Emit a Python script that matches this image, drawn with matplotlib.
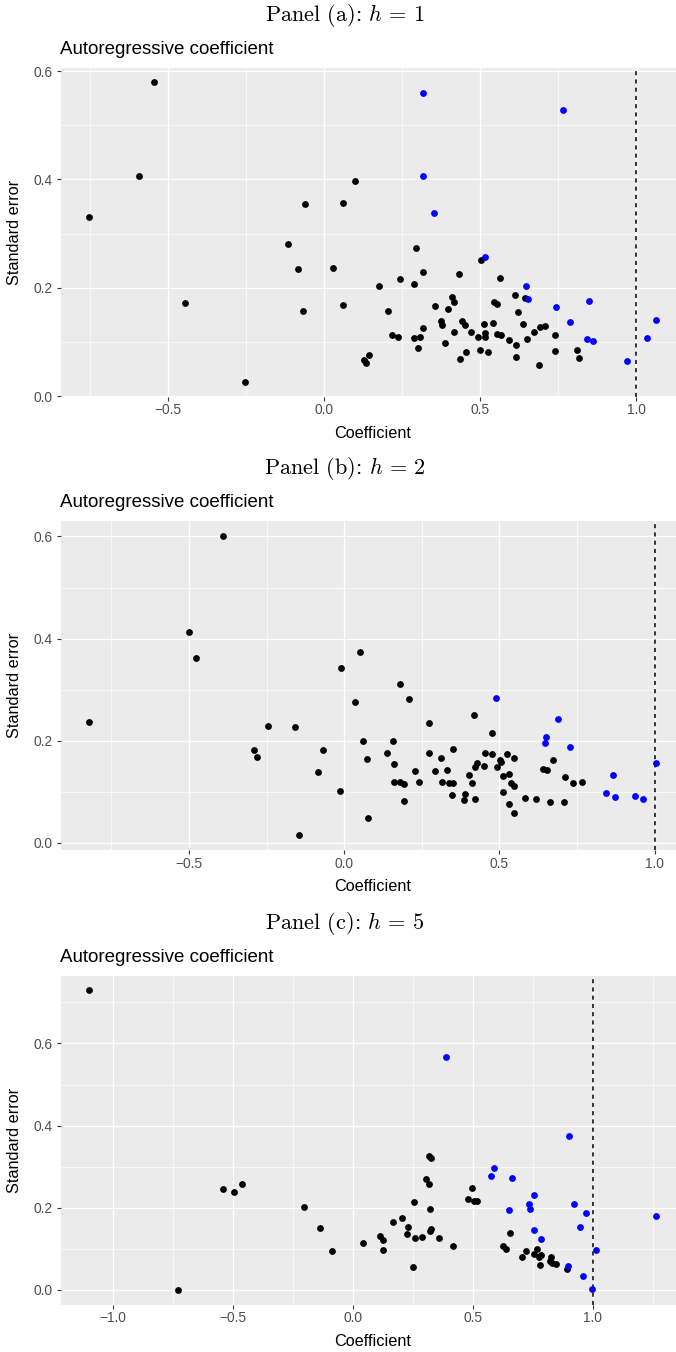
import numpy as np
import matplotlib
matplotlib.use("Agg")
import matplotlib.pyplot as plt
from matplotlib.ticker import MultipleLocator

plt.rcParams["font.family"] = ["Liberation Sans", "DejaVu Sans"]
plt.rcParams["mathtext.fontset"] = "cm"

# ---- Panel (a): h = 1 ----
a_coef_black = [-0.751, -0.592, -0.545, -0.444, -0.253, -0.115, -0.083, -0.061, -0.068, 0.028,
                0.061, 0.062, 0.100, 0.129, 0.136, 0.145, 0.176, 0.206, 0.217, 0.237,
                0.245, 0.288, 0.294, 0.288, 0.301, 0.307, 0.317, 0.318, 0.355, 0.375,
                0.379, 0.387, 0.396, 0.409, 0.415, 0.415, 0.433, 0.435, 0.441, 0.452,
                0.455, 0.472, 0.494, 0.499, 0.503, 0.512, 0.515, 0.515, 0.526, 0.541,
                0.546, 0.553, 0.555, 0.563, 0.568, 0.591, 0.613, 0.614, 0.614, 0.620,
                0.637, 0.643, 0.649, 0.671, 0.688, 0.691, 0.708, 0.740, 0.741, 0.811,
                0.815]
a_se_black = [0.331, 0.407, 0.579, 0.172, 0.027, 0.280, 0.235, 0.355, 0.158, 0.237,
              0.357, 0.169, 0.397, 0.066, 0.062, 0.076, 0.204, 0.158, 0.112, 0.109,
              0.216, 0.207, 0.273, 0.108, 0.089, 0.109, 0.126, 0.229, 0.167, 0.138,
              0.132, 0.099, 0.161, 0.183, 0.174, 0.118, 0.226, 0.069, 0.139, 0.132,
              0.081, 0.119, 0.109, 0.085, 0.251, 0.134, 0.117, 0.110, 0.082, 0.135,
              0.173, 0.171, 0.114, 0.218, 0.112, 0.104, 0.186, 0.095, 0.073, 0.155,
              0.134, 0.181, 0.105, 0.119, 0.057, 0.127, 0.129, 0.113, 0.083, 0.086,
              0.071]
a_coef_blue = [0.318, 0.317, 0.351, 0.515, 0.646, 0.652, 0.742, 0.766, 0.789, 0.850,
               0.843, 0.861, 0.970, 1.034, 1.062]
a_se_blue = [0.559, 0.406, 0.338, 0.257, 0.204, 0.179, 0.164, 0.529, 0.137, 0.176,
             0.106, 0.102, 0.065, 0.108, 0.140]

# ---- Panel (b): h = 2 ----
b_coef_black = [-0.821, -0.499, -0.478, -0.389, -0.290, -0.281, -0.246, -0.157, -0.146, -0.083,
                -0.069, -0.014, -0.010, 0.035, 0.050, 0.060, 0.072, 0.078, 0.139, 0.158,
                0.161, 0.160, 0.181, 0.181, 0.191, 0.193, 0.208, 0.227, 0.242, 0.272,
                0.273, 0.293, 0.310, 0.316, 0.332, 0.337, 0.350, 0.346, 0.350, 0.385,
                0.389, 0.403, 0.413, 0.419, 0.420, 0.421, 0.428, 0.449, 0.454, 0.475,
                0.477, 0.491, 0.501, 0.504, 0.510, 0.510, 0.524, 0.530, 0.531, 0.538,
                0.547, 0.547, 0.548, 0.581, 0.619, 0.641, 0.653, 0.663, 0.673, 0.709,
                0.711, 0.737, 0.766]
b_se_black = [0.236, 0.412, 0.361, 0.601, 0.182, 0.168, 0.229, 0.226, 0.015, 0.138,
              0.181, 0.101, 0.343, 0.276, 0.374, 0.200, 0.164, 0.048, 0.175, 0.200,
              0.155, 0.119, 0.311, 0.119, 0.115, 0.081, 0.282, 0.140, 0.119, 0.235,
              0.176, 0.140, 0.166, 0.119, 0.142, 0.116, 0.116, 0.094, 0.183, 0.083,
              0.096, 0.132, 0.117, 0.250, 0.086, 0.149, 0.156, 0.150, 0.176, 0.173,
              0.214, 0.148, 0.162, 0.158, 0.100, 0.130, 0.174, 0.135, 0.075, 0.117,
              0.112, 0.166, 0.058, 0.088, 0.086, 0.144, 0.143, 0.079, 0.163, 0.079,
              0.129, 0.116, 0.119]
b_coef_blue = [0.488, 0.651, 0.648, 0.688, 0.728, 0.865, 0.842, 0.873, 0.938, 0.961, 1.003]
b_se_blue = [0.284, 0.207, 0.196, 0.243, 0.188, 0.133, 0.097, 0.089, 0.091, 0.085, 0.157]

# ---- Panel (c): h = 5 ----
c_coef_black = [-1.098, -0.728, -0.539, -0.494, -0.460, -0.204, -0.136, -0.088, 0.041, 0.113,
                0.126, 0.127, 0.169, 0.206, 0.226, 0.232, 0.251, 0.256, 0.259, 0.287,
                0.304, 0.318, 0.319, 0.326, 0.321, 0.320, 0.324, 0.359, 0.417, 0.482,
                0.498, 0.507, 0.517, 0.627, 0.637, 0.655, 0.705, 0.722, 0.754, 0.769,
                0.776, 0.781, 0.783, 0.821, 0.825, 0.832, 0.846, 0.891]
c_se_black = [0.729, 0.001, 0.245, 0.239, 0.257, 0.203, 0.152, 0.096, 0.115, 0.132,
              0.121, 0.098, 0.166, 0.176, 0.135, 0.153, 0.057, 0.215, 0.126, 0.130,
              0.270, 0.257, 0.326, 0.321, 0.196, 0.144, 0.149, 0.127, 0.107, 0.222,
              0.248, 0.217, 0.216, 0.106, 0.099, 0.138, 0.080, 0.094, 0.087, 0.100,
              0.080, 0.061, 0.084, 0.071, 0.079, 0.066, 0.063, 0.052]
c_coef_blue = [0.388, 0.576, 0.590, 0.662, 0.652, 0.736, 0.739, 0.756, 0.754, 0.784,
               0.901, 0.922, 0.897, 0.946, 0.971, 0.961, 0.997, 1.012, 1.262]
c_se_blue = [0.566, 0.277, 0.298, 0.273, 0.195, 0.210, 0.197, 0.230, 0.146, 0.125,
             0.375, 0.210, 0.058, 0.153, 0.188, 0.034, 0.002, 0.097, 0.179]

panels = [
    ("a", 1, a_coef_black, a_se_black, a_coef_blue, a_se_blue),
    ("b", 2, b_coef_black, b_se_black, b_coef_blue, b_se_blue),
    ("c", 5, c_coef_black, c_se_black, c_coef_blue, c_se_blue),
]

W, H = 676, 1352
fig = plt.figure(figsize=(W / 100, H / 100), dpi=100)
fig.patch.set_facecolor("white")

panel_left = 61.0
panel_w = 623.0
panel_h = 329.0
panel_tops = [67.5, 521.0, 975.5]


def fx(px):
    return px / W


def fy(py):
    return 1 - py / H


def padded(values):
    lo, hi = min(values), max(values)
    r = hi - lo
    return lo - 0.05 * r, hi + 0.05 * r


tick_col = "#4D4D4D"
tick_col_line = "#333333"

for (tag, h, xb, yb, xu, yu), top in zip(panels, panel_tops):
    ax = fig.add_axes([fx(panel_left), fy(top + panel_h), panel_w / W, panel_h / H])
    ax.set_facecolor("#EBEBEB")
    for s in ax.spines.values():
        s.set_visible(False)

    ax.set_xlim(*padded(list(xb) + list(xu)))
    ax.set_ylim(*padded(list(yb) + list(yu)))

    ax.xaxis.set_major_locator(MultipleLocator(0.5))
    ax.xaxis.set_minor_locator(MultipleLocator(0.25))
    ax.yaxis.set_major_locator(MultipleLocator(0.2))
    ax.yaxis.set_minor_locator(MultipleLocator(0.1))
    ax.grid(which="major", color="white", linewidth=1.0)
    ax.grid(which="minor", color="white", linewidth=0.5)
    ax.set_axisbelow(True)

    ax.xaxis.set_major_formatter(matplotlib.ticker.FuncFormatter(
        lambda v, p: f"{v:.1f}".replace("-", "\u2212")))
    ax.yaxis.set_major_formatter(matplotlib.ticker.FuncFormatter(
        lambda v, p: f"{v:.1f}"))

    ax.tick_params(which="major", length=2.7, width=0.8, color=tick_col_line,
                   labelsize=9.9, labelcolor=tick_col)
    ax.tick_params(axis="x", which="major", pad=2.2)
    ax.tick_params(axis="y", which="major", pad=3.2)
    ax.tick_params(which="minor", length=0)

    ax.axvline(1.0, color="black", linewidth=1.1, linestyle=(0, (2.7, 2.7)), zorder=2)

    ax.scatter(xb, yb, s=24, color="black", linewidths=0, zorder=3)
    ax.scatter(xu, yu, s=24, color="#0000FF", linewidths=0, zorder=4)

    # Titles and labels
    fig.text(fx(345), fy(top - 52), rf"Panel ({tag}): $h\,=\,{h}$",
             ha="center", va="center", fontsize=16, color="black",
             family="cmr10")
    fig.text(fx(60.5), fy(top - 18.5), "Autoregressive coefficient",
             ha="left", va="center", fontsize=13.5, color="black")
    fig.text(fx(panel_left + panel_w / 2), fy(top + panel_h + 36.5), "Coefficient",
             ha="center", va="center", fontsize=11.7, color="black")
    fig.text(fx(14.5), fy(top + panel_h / 2), "Standard error",
             ha="center", va="center", rotation=90, fontsize=11.7, color="black")

fig.savefig("out.png", dpi=100)
